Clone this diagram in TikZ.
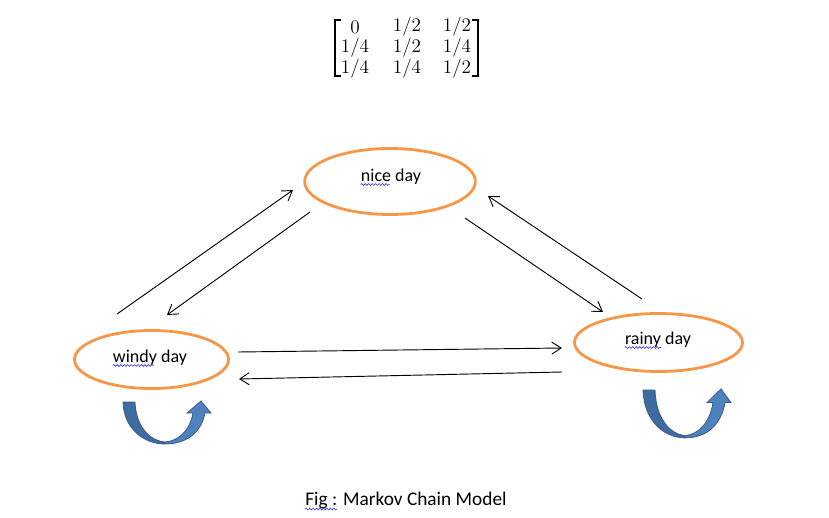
\documentclass[tikz,border=0pt]{standalone}
\usepackage{fontspec}
\setmainfont{Carlito}
\usetikzlibrary{shapes.geometric,arrows.meta,decorations.pathmorphing,calc}
\definecolor{orng}{HTML}{F79646}
\definecolor{bluefill}{HTML}{4F81BD}
\definecolor{bluedark}{HTML}{3E6BA0}
\definecolor{blueline}{HTML}{385D8A}
\definecolor{wavecol}{HTML}{3030E0}
\tikzset{
  state/.style={ellipse, draw=orng, line width=2.1pt, inner sep=0pt},
  lbl/.style={font=\fontsize{13.5}{16}\selectfont, inner sep=0pt, anchor=base},
  ent/.style={font=\fontsize{14.5}{17}\selectfont, inner sep=0pt},
  trans/.style={line width=0.7pt, -{Straight Barb[length=7pt,width=9pt,line width=0.7pt]}},
  spell/.style={draw=wavecol, line width=0.45pt, decorate, decoration={snake, amplitude=0.7pt, segment length=2.6pt}},
  brk/.style={line width=0.8pt},
  uturn/.pic={
    \fill[bluedark, draw=blueline, line width=0.6pt]
      (0,0) -- (12,0) .. controls (13,26) and (28,39) .. (42,40)
      -- (42,42) .. controls (22,42) and (1,28) .. (0,0) -- cycle;
    \fill[bluefill, draw=blueline, line width=0.6pt]
      (42,40) .. controls (56,39) and (67,28) .. (70,11)
      -- (64,11) -- (78,-1) -- (88,11) -- (82,11)
      .. controls (78,32) and (62,42) .. (42,42) -- cycle;
  }
}
\begin{document}
\begin{tikzpicture}[x=0.75pt,y=-0.75pt]
\useasboundingbox (0,0) rectangle (829,518);

% matrix
\node[ent] (m11) at (355,27) {$0$};
\node[ent] (m12) at (407,27) {$1/2$};
\node[ent] (m13) at (457,27) {$1/2$};
\node[ent] (m21) at (355,48) {$1/4$};
\node[ent] (m22) at (407,48) {$1/2$};
\node[ent] (m23) at (457,48) {$1/4$};
\node[ent] (m31) at (355,69) {$1/4$};
\node[ent] (m32) at (407,69) {$1/4$};
\node[ent] (m33) at (457,69) {$1/2$};
\draw[brk] (341,20) -- (335,20) -- (335,76) -- (341,76);
\draw[brk] (472,20) -- (478,20) -- (478,76) -- (472,76);

% states
\node[state, minimum width=128pt, minimum height=49.5pt] (nice) at (390,181.5) {};
\node[state, minimum width=115.5pt, minimum height=43.5pt] (windy) at (151.5,359.5) {};
\node[state, minimum width=126pt, minimum height=43.5pt] (rainy) at (658.5,342.5) {};

\node[lbl] (nicet) at (391,181) {nice day};
\node[lbl] (windyt) at (150,362) {windy day};
\node[lbl] (rainyt) at (658,344) {rainy day};

\draw[spell] ($(nicet.base west)+(0,3.5)$) -- ++(29,0);
\draw[spell] ($(windyt.base west)+(0,3.5)$) -- ++(41,0);
\draw[spell] ($(rainyt.base west)+(0,3.5)$) -- ++(36,0);

% connector end points
\coordinate (wn1) at (117,314);
\coordinate (wn2) at (293,190);
\coordinate (nw1) at (310,212);
\coordinate (nw2) at (167,315);
\coordinate (nr1) at (465,218);
\coordinate (nr2) at (603,312);
\coordinate (rn1) at (642,299);
\coordinate (rn2) at (488,196);
\coordinate (wr1) at (238,352);
\coordinate (wr2) at (562,348);
\coordinate (rw1) at (562,372);
\coordinate (rw2) at (239,379);

\draw[trans] (wn1) -- (wn2);
\draw[trans] (nw1) -- (nw2);
\draw[trans] (nr1) -- (nr2);
\draw[trans] (rn1) -- (rn2);
\draw[trans] (wr1) -- (wr2);
\draw[trans] (rw1) -- (rw2);

% self loops
\pic at (123,402) {uturn};
\pic[yscale=1.14] at (643,390) {uturn};

% caption
\node[font=\fontsize{14.5}{17}\selectfont, inner sep=0pt, anchor=base] (cap) at (406,505) {Fig : Markov Chain Model};
\draw[spell] ($(cap.base west)+(0,4)$) -- ++(32,0);
\end{tikzpicture}
\end{document}
